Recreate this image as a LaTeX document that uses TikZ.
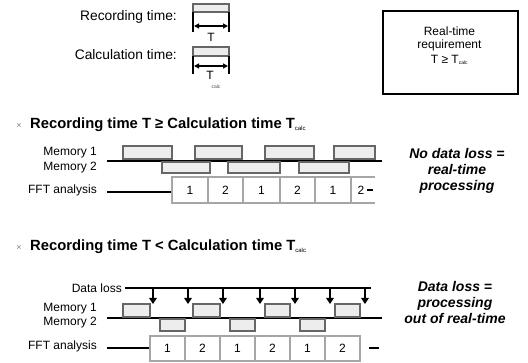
\documentclass[tikz,border=0pt]{standalone}
\usepackage{fontspec}
\setmainfont{Liberation Sans}
\usetikzlibrary{arrows.meta}
\tikzset{
  lbl/.style={font=\fontsize{12}{12}\selectfont, anchor=east, inner sep=0pt},
  head/.style={font=\bfseries\fontsize{14.8}{15}\selectfont, anchor=west, inner sep=0pt},
  verdict/.style={font=\bfseries\itshape\fontsize{14}{16}\selectfont, align=center, inner sep=0pt},
  membox/.style={draw=black!60, line width=2pt, fill=gray!14},
  fftcell/.style={draw=black!35, line width=2pt, fill=white},
  tline/.style={line width=1.6pt},
  num/.style={font=\fontsize{12}{12}\selectfont, inner sep=0pt},
  lossarrow/.style={line width=1.8pt, -{Triangle[width=7.5pt,length=6pt]}},
  dimarrow/.style={line width=1.6pt, {Triangle[width=5pt,length=5pt]}-{Triangle[width=5pt,length=5pt]}},
}
\begin{document}
\begin{tikzpicture}[x=1pt,y=-1pt]
\useasboundingbox (0,0) rectangle (528,363);

% ---------- legend ----------
\node[lbl, font=\fontsize{13.8}{14}\selectfont] (rec) at (177,17) {Recording time:};
\node[lbl, font=\fontsize{13.8}{14}\selectfont] (cal) at (177,55) {Calculation time:};

\draw[membox] (193,4) rectangle (229,12);
\draw[line width=1.8pt] (193,12) -- (193,32) (229,12) -- (229,32);
\coordinate (r1) at (194,26); \coordinate (r2) at (228,26);
\draw[dimarrow] (r1) -- (r2);
\node[num, font=\fontsize{12}{12}\selectfont] (tlab) at (211,37) {T};

\draw[membox] (193,47) rectangle (229,56);
\draw[line width=1.8pt] (193,56) -- (193,74) (229,56) -- (229,74);
\coordinate (c1) at (194,66); \coordinate (c2) at (228,66);
\draw[dimarrow] (c1) -- (c2);
\node[num, font=\fontsize{12}{12}\selectfont] (tclab) at (210,75) {T};
\node[num, font=\fontsize{5}{5}\selectfont, text=black!70] (tcsub) at (216,87) {calc};

\node[draw, line width=1.6pt, minimum width=135pt, minimum height=83pt, anchor=north west, inner sep=0pt] (req) at (382,10) {};
\node[num] (req1) at (449.5,31) {Real-time};
\node[num] (req2) at (449.5,45) {requirement};
\node[num] (req3) at (449.5,60) {T ≥ T\textsubscript{\fontsize{5}{5}\selectfont calc}};

% ---------- heading 1 ----------
\node[num, font=\fontsize{9}{9}\selectfont, text=black!50] (b1) at (19,126) {×};
\node[head] (h1) at (30,125) {Recording time T ≥ Calculation time T\textsubscript{\fontsize{6}{6}\selectfont\mdseries calc}};

% ---------- diagram 1 ----------
\node[lbl] (m1a) at (97,153) {Memory 1};
\node[lbl] (m2a) at (97,168) {Memory 2};
\node[lbl] (ffta) at (97,190) {FFT analysis};

\draw[tline] (107,161) -- (382,161);
\foreach \a/\b in {123/172,195/242,265/314,334/375}
  \draw[membox] (\a,146) rectangle (\b,159);
\foreach \a/\b in {162/210,228/280,299/349}
  \draw[membox] (\a,162.5) rectangle (\b,173);

\draw[tline] (107,192) -- (172,192);
\foreach \a/\b/\n in {172/208/1,208/243/2,243/280/1,280/315/2,315/351/1}
  \draw[fftcell] (\a,177) rectangle node[num, black] {\n} (\b,203);
\draw[fftcell] (375,177) -- (351,177) -- (351,203) -- (375,203);
\node[num] (lastA) at (361,190) {2};
\draw[line width=1.4pt] (367,190) -- (373,190);

\node[verdict] (v1) at (457,171) {No data loss =\\real-time\\processing};

% ---------- heading 2 ----------
\node[num, font=\fontsize{9}{9}\selectfont, text=black!50] (b2) at (19,248) {×};
\node[head] (h2) at (30,247) {Recording time T < Calculation time T\textsubscript{\fontsize{6}{6}\selectfont\mdseries calc}};

% ---------- diagram 2 ----------
\node[lbl] (dl) at (122,288) {Data loss};
\node[lbl] (m1b) at (97,309) {Memory 1};
\node[lbl] (m2b) at (97,323) {Memory 2};
\node[lbl] (fftb) at (97,346) {FFT analysis};

\draw[line width=2pt] (125,288) -- (371,288);
\foreach \x in {153,188,223,260,295,330,365}
  \draw[lossarrow] (\x,288) -- (\x,304);

\draw[tline] (107,318) -- (382,318);
\foreach \a/\b in {123/150,193/220,265/290,335/360}
  \draw[membox] (\a,304) rectangle (\b,317);
\foreach \a/\b in {160/185,230/255,300/325}
  \draw[membox] (\a,319.5) rectangle (\b,331);

\draw[tline] (107,348) -- (150,348);
\foreach \a/\b/\n in {150/185/1,185/220/2,220/255/1,255/290/2,290/325/1,325/360/2}
  \draw[fftcell] (\a,336) rectangle node[num, black] {\n} (\b,361);
\draw[line width=2pt] (369,348) -- (379,348);

\node[verdict] (v2) at (455,302) {Data loss =\\processing\\out of real-time};
\end{tikzpicture}
\end{document}
